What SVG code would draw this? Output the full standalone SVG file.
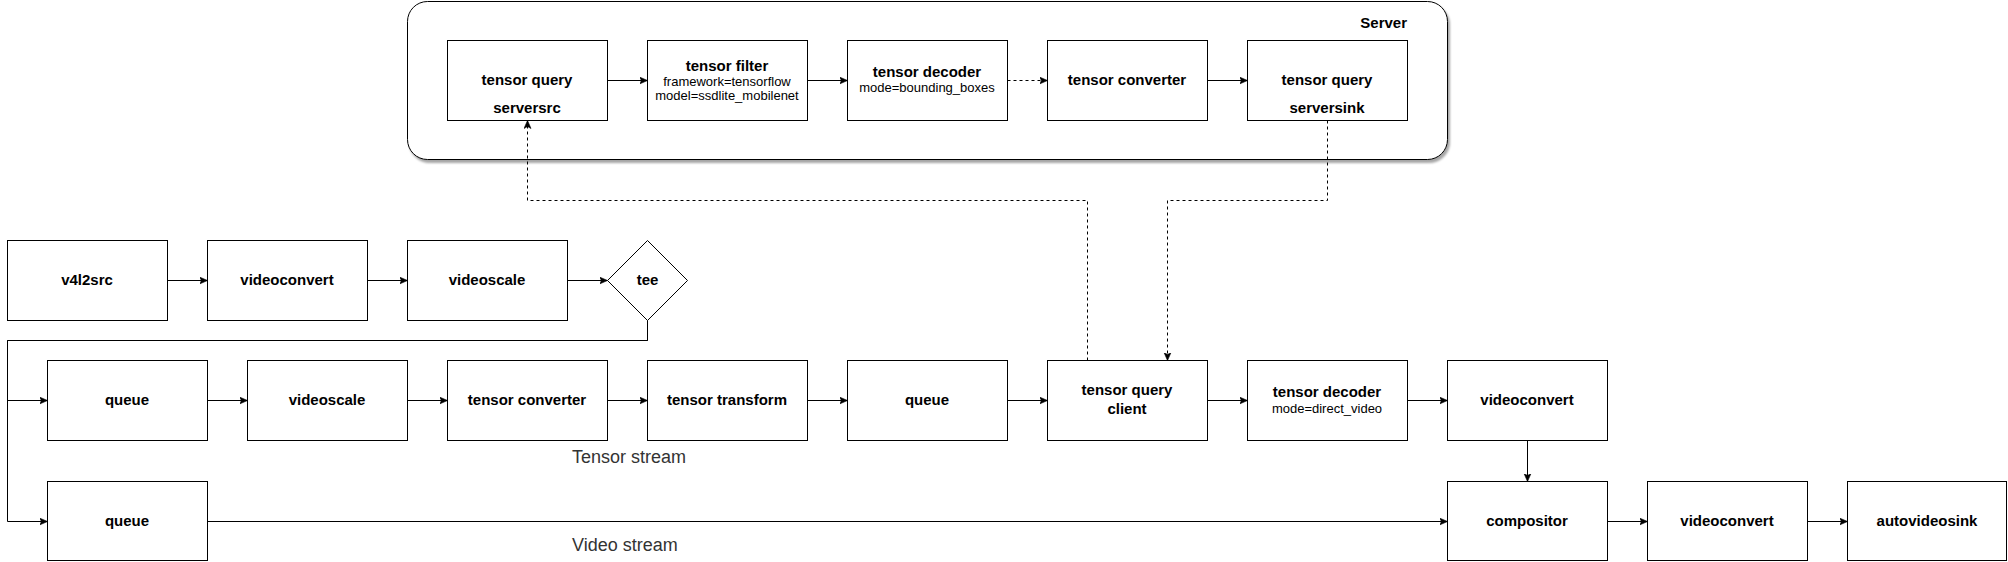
<svg xmlns="http://www.w3.org/2000/svg" width="2008" height="562" viewBox="0 0 2008 562">
<style>
  .box{fill:#fff;stroke:#000;stroke-width:1}
  .t{font-family:"Liberation Sans",Arial,Helvetica,sans-serif;font-size:15px;font-weight:bold;fill:#000;text-anchor:middle}
  .s{font-family:"Liberation Sans",Arial,Helvetica,sans-serif;font-size:13px;fill:#000;text-anchor:middle}
  .lbl{font-family:"Liberation Sans",Arial,Helvetica,sans-serif;font-size:18px;fill:#333;text-anchor:start}
  .e{fill:none;stroke:#000;stroke-width:1}
  .d{fill:none;stroke:#000;stroke-width:1;stroke-dasharray:3 3}
</style>
<defs>
  <marker id="arr" markerWidth="10" markerHeight="10" refX="8" refY="4" orient="auto" markerUnits="userSpaceOnUse">
    <path d="M0,0.5 L8,4 L0,7.5 L2,4 Z" fill="#000" stroke="#000" stroke-width="0.6"/>
  </marker>
  <filter id="sh" x="-5%" y="-5%" width="110%" height="115%">
    <feDropShadow dx="2" dy="3" stdDeviation="1.2" flood-color="#000" flood-opacity="0.35"/>
  </filter>
</defs>
<rect width="2008" height="562" fill="#fff"/>

<g id="server">
  <rect x="407.5" y="1.5" width="1040" height="158" rx="20" ry="20" fill="#fff" stroke="#000" filter="url(#sh)"/>
  <text class="t" x="1407" y="28" style="text-anchor:end">Server</text>
</g>

<g id="connectors">
  <path class="e" d="M607.5,80.5 H647.5" marker-end="url(#arr)"/>
  <path class="e" d="M807.5,80.5 H847.5" marker-end="url(#arr)"/>
  <path class="d" d="M1007.5,80.5 H1047.5" marker-end="url(#arr)"/>
  <path class="e" d="M1207.5,80.5 H1247.5" marker-end="url(#arr)"/>
  <path class="e" d="M167.5,280.5 H207.5" marker-end="url(#arr)"/>
  <path class="e" d="M367.5,280.5 H407.5" marker-end="url(#arr)"/>
  <path class="e" d="M567.5,280.5 H607.5" marker-end="url(#arr)"/>
  <path class="e" d="M647.5,320.5 V340.5 H7.5 V400.5 H47.5" marker-end="url(#arr)"/>
  <path class="e" d="M647.5,320.5 V340.5 H7.5 V521.5 H47.5" marker-end="url(#arr)"/>
  <path class="e" d="M207.5,400.5 H247.5" marker-end="url(#arr)"/>
  <path class="e" d="M407.5,400.5 H447.5" marker-end="url(#arr)"/>
  <path class="e" d="M607.5,400.5 H647.5" marker-end="url(#arr)"/>
  <path class="e" d="M807.5,400.5 H847.5" marker-end="url(#arr)"/>
  <path class="e" d="M1007.5,400.5 H1047.5" marker-end="url(#arr)"/>
  <path class="e" d="M1207.5,400.5 H1247.5" marker-end="url(#arr)"/>
  <path class="e" d="M1407.5,400.5 H1447.5" marker-end="url(#arr)"/>
  <path class="e" d="M1527.5,440.5 V481.5" marker-end="url(#arr)"/>
  <path class="e" d="M207.5,521.5 H1447.5" marker-end="url(#arr)"/>
  <path class="e" d="M1607.5,521.5 H1647.5" marker-end="url(#arr)"/>
  <path class="e" d="M1807.5,521.5 H1847.5" marker-end="url(#arr)"/>
  <path class="d" d="M1327.5,120.5 V200.5 H1167.5 V360.5" marker-end="url(#arr)"/>
  <path class="d" d="M1087.5,360.5 V200.5 H527.5 V120.5" marker-end="url(#arr)"/>
</g>

<g id="serversrc"><rect class="box" x="447.5" y="40.5" width="160" height="80"/><text class="t" x="527" y="85">tensor query</text><text class="t" x="527" y="113">serversrc</text></g>
<g id="tensor-filter"><rect class="box" x="647.5" y="40.5" width="160" height="80"/><text class="t" x="727" y="71">tensor filter</text><text class="s" x="727" y="86">framework=tensorflow</text><text class="s" x="727" y="100">model=ssdlite_mobilenet</text></g>
<g id="tensor-decoder-bb"><rect class="box" x="847.5" y="40.5" width="160" height="80"/><text class="t" x="927" y="77">tensor decoder</text><text class="s" x="927" y="92">mode=bounding_boxes</text></g>
<g id="tensor-converter-srv"><rect class="box" x="1047.5" y="40.5" width="160" height="80"/><text class="t" x="1127" y="85">tensor converter</text></g>
<g id="serversink"><rect class="box" x="1247.5" y="40.5" width="160" height="80"/><text class="t" x="1327" y="85">tensor query</text><text class="t" x="1327" y="113">serversink</text></g>

<g id="v4l2src"><rect class="box" x="7.5" y="240.5" width="160" height="80"/><text class="t" x="87" y="285">v4l2src</text></g>
<g id="videoconvert1"><rect class="box" x="207.5" y="240.5" width="160" height="80"/><text class="t" x="287" y="285">videoconvert</text></g>
<g id="videoscale1"><rect class="box" x="407.5" y="240.5" width="160" height="80"/><text class="t" x="487" y="285">videoscale</text></g>
<g id="tee"><path class="box" d="M647.5,240.5 L687.5,280.5 L647.5,320.5 L607.5,280.5 Z"/><text class="t" x="647.5" y="285">tee</text></g>

<g id="queue1"><rect class="box" x="47.5" y="360.5" width="160" height="80"/><text class="t" x="127" y="405">queue</text></g>
<g id="videoscale2"><rect class="box" x="247.5" y="360.5" width="160" height="80"/><text class="t" x="327" y="405">videoscale</text></g>
<g id="tensor-converter"><rect class="box" x="447.5" y="360.5" width="160" height="80"/><text class="t" x="527" y="405">tensor converter</text></g>
<g id="tensor-transform"><rect class="box" x="647.5" y="360.5" width="160" height="80"/><text class="t" x="727" y="405">tensor transform</text></g>
<g id="queue2"><rect class="box" x="847.5" y="360.5" width="160" height="80"/><text class="t" x="927" y="405">queue</text></g>
<g id="query-client"><rect class="box" x="1047.5" y="360.5" width="160" height="80"/><text class="t" x="1127" y="395">tensor query</text><text class="t" x="1127" y="414">client</text></g>
<g id="tensor-decoder-dv"><rect class="box" x="1247.5" y="360.5" width="160" height="80"/><text class="t" x="1327" y="397">tensor decoder</text><text class="s" x="1327" y="413">mode=direct_video</text></g>
<g id="videoconvert2"><rect class="box" x="1447.5" y="360.5" width="160" height="80"/><text class="t" x="1527" y="405">videoconvert</text></g>

<g id="queue3"><rect class="box" x="47.5" y="481.5" width="160" height="79"/><text class="t" x="127" y="526">queue</text></g>
<g id="compositor"><rect class="box" x="1447.5" y="481.5" width="160" height="79"/><text class="t" x="1527" y="526">compositor</text></g>
<g id="videoconvert3"><rect class="box" x="1647.5" y="481.5" width="160" height="79"/><text class="t" x="1727" y="526">videoconvert</text></g>
<g id="autovideosink"><rect class="box" x="1847.5" y="481.5" width="159" height="79"/><text class="t" x="1927" y="526">autovideosink</text></g>

<g id="labels">
  <text class="lbl" x="572" y="463">Tensor stream</text>
  <text class="lbl" x="572" y="551">Video stream</text>
</g>
</svg>
